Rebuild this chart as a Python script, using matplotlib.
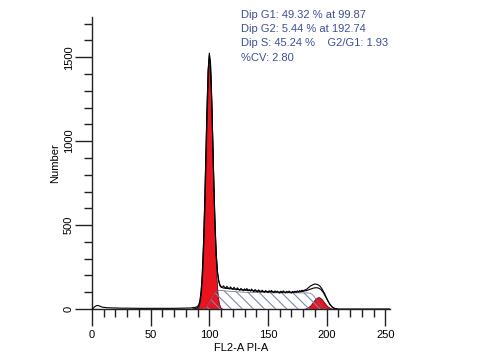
import matplotlib
matplotlib.use("Agg")
import matplotlib.pyplot as plt
from matplotlib.ticker import MultipleLocator

plt.rcParams['font.family'] = ['Liberation Sans', 'DejaVu Sans']

# ---- data ----
# measured histogram (black jagged line)
hist_x = [0, 1, 2, 3, 4, 5, 6, 7, 8, 9, 10, 12, 15, 20, 25, 30, 40, 50, 60, 70, 80, 84, 86, 88,
          89, 90, 91, 92, 93, 94, 95, 96, 97, 98, 99, 100, 101, 102, 103, 104, 105, 106, 107, 108,
          109, 110, 111, 112, 113, 114, 115, 116, 117, 118, 119, 120, 121, 122, 123, 124, 125, 126,
          127, 128, 129, 130, 131, 132, 133, 134, 135, 136, 137, 138, 139, 140, 141, 142, 143, 144,
          145, 146, 147, 148, 149, 150, 151, 152, 153, 154, 155, 156, 157, 158, 159, 160, 161, 162,
          163, 164, 165, 166, 167, 168, 169, 170, 171, 172, 173, 174, 175, 176, 177, 178, 179, 180,
          181, 182, 183, 184, 185, 186, 187, 188, 189, 190, 191, 192, 193, 194, 195, 196, 197, 198,
          199, 200, 201, 202, 203, 204, 205, 206, 207, 208, 210, 254]
hist_y = [0, 4, 12, 17, 20, 21, 19, 16, 13, 11, 10, 8, 7, 6, 5, 5, 4, 4, 4, 4, 5, 6, 8, 10,
          12, 16, 25, 50, 105, 210, 380, 610, 890, 1180, 1420, 1525, 1470, 1260, 990, 710, 480, 320, 220, 170,
          145, 135, 128, 138, 130, 124, 135, 126, 120, 132, 123, 117, 129, 120, 114, 126, 117, 111,
          123, 114, 109, 120, 111, 122, 108, 116, 107, 119, 110, 104, 116, 108, 102, 114, 106, 101,
          112, 104, 99, 110, 103, 98, 109, 101, 111, 102, 97, 108, 100, 106, 99, 95, 106, 98,
          108, 100, 96, 105, 98, 107, 99, 95, 105, 98, 106, 99, 108, 101, 110, 103, 112, 107,
          112, 115, 118, 124, 130, 136, 140, 144, 147, 149, 148, 146, 143, 138, 130, 120, 108, 95,
          80, 65, 50, 37, 26, 17, 10, 6, 3, 1, 0, 0]

# model fit (smooth black line)
fit_x = [86, 88, 89, 90, 91, 92, 93, 94, 95, 96, 97, 98, 99, 100, 101, 102, 103, 104, 105, 106,
         107, 108, 109, 110, 112, 120, 130, 140, 150, 160, 170, 178, 183, 186, 189, 191, 193, 195,
         197, 199, 201, 203, 205, 207, 209]
fit_y = [0, 2, 4, 8, 18, 44, 99, 202, 370, 610, 902, 1195, 1420, 1510, 1450, 1250, 980, 700, 470, 310,
         215, 165, 140, 130, 125, 119, 113, 107, 103, 101, 100, 103, 110, 118, 125, 127, 125, 117,
         100, 75, 48, 25, 10, 3, 0]

# G1 component (red)
g1_x = [88, 89, 90, 91, 92, 93, 94, 95, 96, 97, 98, 99, 100, 101, 102, 103, 104, 105, 106, 107,
        108, 109, 110, 111, 112]
g1_y = [0, 2, 6, 16, 42, 97, 199, 367, 604, 892, 1177, 1391, 1470, 1391, 1177, 892, 604, 367, 199, 97,
        42, 16, 6, 2, 0]

# G2 component (red)
g2_x = [180, 181, 182, 183, 184, 185, 186, 187, 188, 189, 190, 191, 192, 193, 194, 195, 196, 197,
        198, 199, 200, 201, 202, 203, 204, 205, 206]
g2_y = [0, 2, 3, 6, 10, 15, 21, 29, 39, 48, 57, 64, 69, 71, 69, 64, 57, 48, 39, 29, 21, 15, 10, 6,
        3, 2, 0]

# S phase component (hatched)
s_x = [95, 96, 97, 98, 99, 100, 101, 102, 103, 104, 105, 106, 107, 108, 110, 120, 130, 140, 150,
       160, 170, 180, 186, 188, 190, 192, 194, 196, 198, 200]
s_y = [0, 3, 8, 15, 25, 37, 50, 64, 78, 89, 98, 104, 108, 110, 110, 104, 100, 98, 97,
       96, 96, 96, 95, 85, 68, 50, 30, 12, 3, 0]

stats_lines = ["Dip G1: 49.32 % at 99.87",
               "Dip G2: 5.44 % at 192.74",
               "Dip S: 45.24 %    G2/G1: 1.93",
               "%CV: 2.80"]
x_ticks = [0, 50, 100, 150, 200, 250]
y_ticks = [0, 500, 1000, 1500]

# ---- figure ----
fig = plt.figure(figsize=(4.8, 3.6), dpi=100)
ax = fig.add_axes([92 / 480, 51 / 360, 298 / 480, 292 / 360])

red = '#e8141e'
ax.fill_between(g1_x, g1_y, 0, facecolor=red, edgecolor='#3a0000', linewidth=0.5, zorder=2)
ax.fill_between(g2_x, g2_y, 0, facecolor=red, edgecolor='#3a0000', linewidth=0.5, zorder=2)
plt.rcParams['hatch.linewidth'] = 0.8
ax.fill_between(s_x, s_y, 0, facecolor='none', edgecolor='#7d88b0', hatch='\\\\\\',
                linewidth=0, zorder=3)
ax.plot(s_x, s_y, color='#6d5f8a', linewidth=0.5, zorder=3)
ax.plot(fit_x, fit_y, color='black', linewidth=0.8, zorder=4)
ax.plot(hist_x, hist_y, color='black', linewidth=0.8, zorder=5)

ax.set_xlim(0, 254)
ax.set_ylim(0, 1740)
ax.set_xticks(x_ticks)
ax.set_yticks(y_ticks)
ax.xaxis.set_minor_locator(MultipleLocator(10))
ax.yaxis.set_minor_locator(MultipleLocator(100))
for s in ['top', 'right']:
    ax.spines[s].set_visible(False)
for s in ['left', 'bottom']:
    ax.spines[s].set_linewidth(1.0)
    ax.spines[s].set_color('#222222')
ax.tick_params(which='major', direction='out', length=12, width=1.0, color='#222222',
               labelsize=8, pad=3)
ax.tick_params(which='minor', direction='out', length=6, width=1.0, color='#222222')
ax.tick_params(axis='y', which='major', pad=1)
for lab in ax.get_yticklabels():
    lab.set_rotation(90)
    lab.set_va('center')
ax.set_xlabel('FL2-A PI-A', fontsize=8, labelpad=2)
ax.set_ylabel('Number', fontsize=8, labelpad=3)

txt_color = '#3c4f96'
for i, line in enumerate(stats_lines):
    fig.text(241 / 480, 1 - (15 + 14.2 * i) / 360, line, fontsize=8, color=txt_color,
             va='center', ha='left')

fig.savefig('out.png', dpi=100)
